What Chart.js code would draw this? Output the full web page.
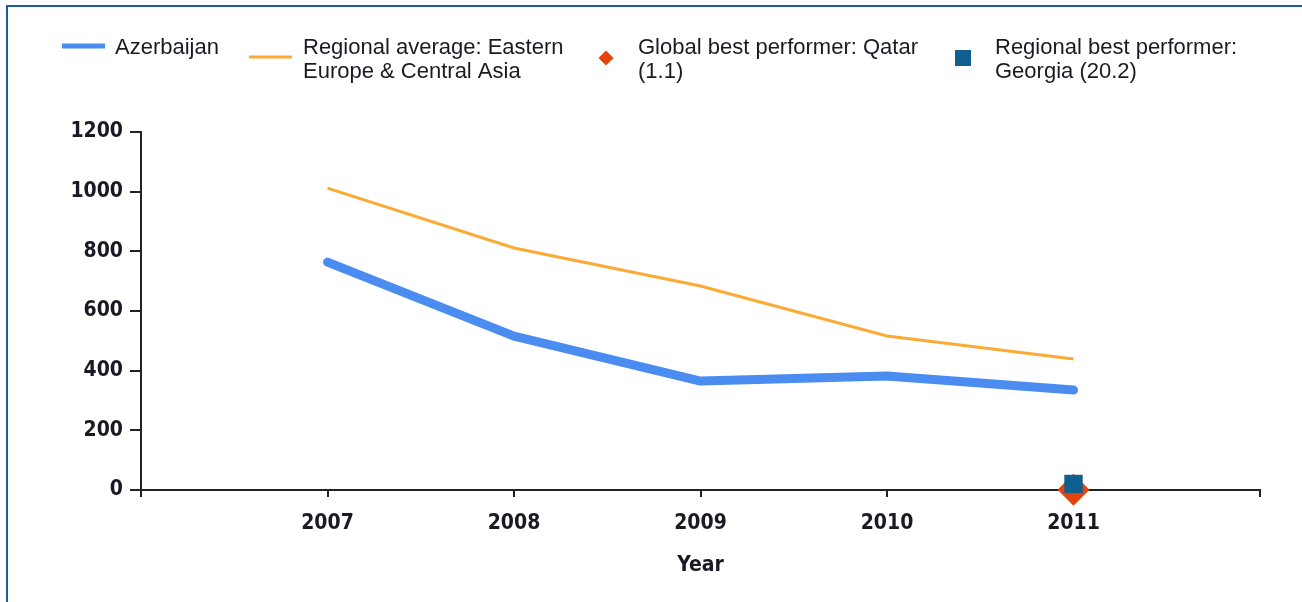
<!DOCTYPE html>
<html>
<head>
<meta charset="utf-8">
<script src="https://cdn.jsdelivr.net/npm/chart.js@4/dist/chart.umd.min.js"></script>
<style>
  html, body { margin: 0; padding: 0; background: #ffffff; }
  body { width: 1302px; height: 602px; position: relative; overflow: hidden; }
  #frame { position: absolute; left: 6px; top: 5px; right: -4px; bottom: -4px; border-left: 2px solid #1d5c9e; border-top: 2px solid #1d5c9e; }
  #wrap { position: absolute; left: 0; top: 0; width: 1302px; height: 602px; }
</style>
</head>
<body>
<div id="frame"></div>
<div id="wrap"><canvas id="c" width="1302" height="602"></canvas></div>
<script>
// ---- data ----
const years = [2007, 2008, 2009, 2010, 2011];
const azerbaijan = [764, 516, 365, 382, 335];
const regionalAverage = [1012, 811, 684, 516, 439];
const globalBest = [null, null, null, null, 1.1];
const regionalBest = [null, null, null, null, 20.2];
const yTicks = [0, 200, 400, 600, 800, 1000, 1200];
const seriesLabels = [
  ['Azerbaijan'],
  ['Regional average: Eastern', 'Europe & Central Asia'],
  ['Global best performer: Qatar', '(1.1)'],
  ['Regional best performer:', 'Georgia (20.2)']
];
const xTitle = 'Year';

const toPoints = (vals) => years.map((yr, i) => ({ x: yr, y: vals[i] })).filter(p => p.y !== null);

const BLUE = '#4a8cef', ORANGE = '#fbab35', RED = '#e2460e', TEAL = '#10608f';
const TXT = '#1a1a24';

const legendPlugin = {
  id: 'customLegend',
  afterDraw(chart) {
    const ctx = chart.ctx;
    ctx.save();
    ctx.font = '22px "Liberation Sans", Arial, sans-serif';
    ctx.fillStyle = TXT;
    ctx.textBaseline = 'alphabetic';
    const items = [
      { type: 'line', color: BLUE, w: 5, x0: 62, x1: 105, y: 46, tx: 115 },
      { type: 'line', color: ORANGE, w: 3, x0: 249, x1: 292, y: 57, tx: 303 },
      { type: 'diamond', color: RED, cx: 606, cy: 58, r: 7.5, tx: 638 },
      { type: 'square', color: TEAL, cx: 963, cy: 58, r: 8, tx: 995 }
    ];
    items.forEach((it, i) => {
      if (it.type === 'line') {
        ctx.strokeStyle = it.color; ctx.lineWidth = it.w; ctx.lineCap = 'butt';
        ctx.beginPath(); ctx.moveTo(it.x0, it.y); ctx.lineTo(it.x1, it.y); ctx.stroke();
      } else if (it.type === 'diamond') {
        ctx.fillStyle = it.color;
        ctx.beginPath();
        ctx.moveTo(it.cx, it.cy - it.r); ctx.lineTo(it.cx + it.r, it.cy);
        ctx.lineTo(it.cx, it.cy + it.r); ctx.lineTo(it.cx - it.r, it.cy);
        ctx.closePath(); ctx.fill();
      } else {
        ctx.fillStyle = it.color;
        ctx.fillRect(it.cx - it.r, it.cy - it.r, it.r * 2, it.r * 2);
      }
      ctx.fillStyle = TXT;
      seriesLabels[i].forEach((line, k) => ctx.fillText(line, it.tx, 54 + k * 24));
    });
    ctx.restore();
  }
};

const tickFont = { family: '"DejaVu Sans Condensed", "DejaVu Sans", sans-serif', size: 21, weight: 'bold' };

new Chart(document.getElementById('c'), {
  type: 'line',
  data: {
    datasets: [
      { label: seriesLabels[3].join(' '), data: toPoints(regionalBest), showLine: false,
        pointStyle: 'rect', pointRadius: 13, backgroundColor: TEAL, borderColor: TEAL, borderWidth: 0, order: 0, clip: false },
      { label: seriesLabels[2].join(' '), data: toPoints(globalBest), showLine: false,
        pointStyle: 'rectRot', pointRadius: 16, backgroundColor: RED, borderColor: RED, borderWidth: 0, order: 1, clip: false },
      { label: seriesLabels[0].join(' '), data: toPoints(azerbaijan), borderColor: BLUE, backgroundColor: BLUE,
        borderWidth: 9, pointRadius: 0, borderCapStyle: 'round', borderJoinStyle: 'round', tension: 0, order: 2 },
      { label: seriesLabels[1].join(' '), data: toPoints(regionalAverage), borderColor: ORANGE, backgroundColor: ORANGE,
        borderWidth: 3, pointRadius: 0, tension: 0, order: 3 }
    ]
  },
  options: {
    responsive: false,
    animation: false,
    events: [],
    layout: { padding: { top: 132, right: 42, bottom: 0, left: 0 } },
    plugins: { legend: { display: false }, tooltip: { enabled: false } },
    scales: {
      x: {
        type: 'linear',
        min: years[0] - 1,
        max: years[years.length - 1] + 1,
        afterBuildTicks(scale) {
          const t = [{ value: years[0] - 1 }];
          years.forEach(y => t.push({ value: y }));
          t.push({ value: years[years.length - 1] + 1 });
          scale.ticks = t;
        },
        ticks: {
          autoSkip: false, maxRotation: 0, color: TXT, font: tickFont, padding: 14,
          callback: (v) => years.includes(v) ? String(v) : ''
        },
        grid: { display: true, drawOnChartArea: false, drawTicks: true, tickLength: 7, color: '#222', lineWidth: 2 },
        border: { display: true, color: '#222', width: 2 },
        title: { display: true, text: xTitle, color: TXT, font: tickFont, padding: { top: 0, bottom: 24 } },
        afterFit(scale) { scale.height = 112; }
      },
      y: {
        min: 0, max: 1200,
        afterBuildTicks(scale) { scale.ticks = yTicks.map(v => ({ value: v })); },
        ticks: { color: TXT, font: tickFont, padding: 7, callback: (v) => String(v) },
        grid: { display: true, drawOnChartArea: false, drawTicks: true, tickLength: 11, color: '#222', lineWidth: 2 },
        border: { display: true, color: '#222', width: 2 },
        afterFit(scale) { scale.width = 141; }
      }
    }
  },
  plugins: [legendPlugin]
});
</script>
</body>
</html>
